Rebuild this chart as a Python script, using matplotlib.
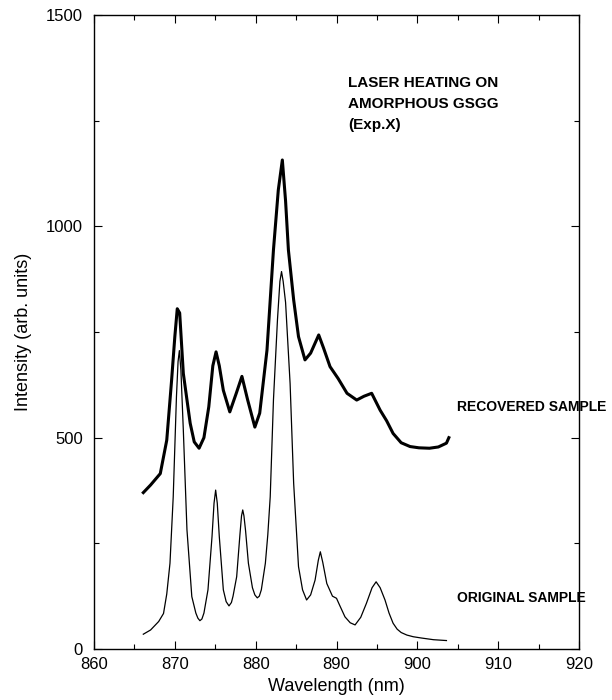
import numpy as np
import matplotlib
matplotlib.use('Agg')
import matplotlib.pyplot as plt
from matplotlib.ticker import MultipleLocator

# wavelengths (nm) and intensities
wl_orig = [866.1, 867, 868, 868.6, 869.0, 869.4, 869.8, 870.2, 870.4, 870.56, 870.75,
           871.05, 871.5, 872.1, 872.6, 872.85, 873.1, 873.35, 873.6, 874.1, 874.6,
           874.85, 875.05, 875.25, 875.5, 876.0, 876.35, 876.7, 877.0, 877.2, 877.65,
           878.05, 878.25, 878.4, 878.55, 878.75, 879.1, 879.6, 879.9, 880.2, 880.45,
           880.7, 881.2, 881.5, 881.8, 882.2, 882.7, 883.0, 883.2, 883.4, 883.7,
           884.26, 884.7, 885.3, 885.8, 886.3, 886.8, 887.35, 887.75, 888.0, 888.3,
           888.8, 889.5, 890.0, 890.4, 891.05, 891.7, 892.3, 893.0, 893.7, 894.4,
           894.9, 895.4, 896.0, 896.5, 897.0, 897.5, 898.0, 898.7, 899.5, 900.5,
           902, 903.6]
int_orig = [35, 45, 65, 84, 130, 203, 360, 597, 680, 706, 660,
            518, 282, 124, 85, 73, 67, 71, 85, 140, 266,
            345, 376, 345, 266, 140, 112, 102, 110, 125, 171,
            270, 315, 329, 315, 280, 203, 145, 128, 121, 125,
            140, 203, 270, 360, 589, 780, 870, 893, 870, 820,
            628, 392, 195, 140, 116, 128, 163, 210, 230, 205,
            155, 125, 120, 103, 76, 62, 57, 75, 108, 145,
            159, 145, 116, 85, 61, 47, 39, 33, 29, 26,
            22, 20]

wl_rec = [866.1, 867, 868.2, 869.0, 869.6, 870.0, 870.3, 870.6, 871.05, 871.9, 872.4,
          873.0, 873.6, 874.2, 874.7, 875.1, 875.5, 876.0, 876.8, 877.6, 878.3,
          879.0, 879.9, 880.5, 881.4, 882.2, 882.8, 883.3, 883.7, 884.05, 884.7,
          885.3, 886.1, 886.8, 887.8, 888.4, 889.2, 890.2, 891.3, 892.5, 893.4,
          894.35, 895.4, 896.2, 897.0, 898.0, 899.1, 900.2, 901.5, 902.6, 903.6, 903.9]
int_rec = [370, 388, 415, 494, 636, 739, 805, 795, 652, 534, 490,
           475, 500, 573, 670, 703, 670, 612, 561, 605, 645,
           590, 525, 558, 707, 944, 1086, 1157, 1060, 944, 826,
           739, 684, 700, 743, 712, 668, 640, 605, 589, 598,
           605, 565, 540, 510, 488, 479, 476, 475, 478, 487, 500]

title_lines = ['LASER HEATING ON', 'AMORPHOUS GSGG', '(Exp.X)']

plt.rcParams['font.family'] = ['Liberation Sans', 'DejaVu Sans']

fig, ax = plt.subplots(figsize=(6.12, 7.0), dpi=100)
fig.subplots_adjust(left=94/612, right=579/612, top=1-15/700, bottom=1-649/700)

ax.plot(wl_rec, int_rec, color='black', lw=2.2, solid_joinstyle='round')
ax.plot(wl_orig, int_orig, color='black', lw=0.9, solid_joinstyle='round')

ax.set_xlim(860, 920)
ax.set_ylim(0, 1500)
ax.xaxis.set_major_locator(MultipleLocator(10))
ax.xaxis.set_minor_locator(MultipleLocator(5))
ax.yaxis.set_major_locator(MultipleLocator(500))
ax.yaxis.set_minor_locator(MultipleLocator(250))
ax.tick_params(which='both', direction='in', top=True, right=True, width=0.8)
ax.tick_params(which='major', length=6, labelsize=12)
ax.tick_params(which='minor', length=3.5)
ax.tick_params(axis='x', pad=6)
ax.tick_params(axis='y', pad=8)
for s in ax.spines.values():
    s.set_linewidth(1.0)

ax.set_xlabel('Wavelength (nm)', fontsize=13, labelpad=4)
ax.set_ylabel('Intensity (arb. units)', fontsize=13, labelpad=10)

for i, t in enumerate(title_lines):
    ax.text(891.4, 1339 - i*50, t, fontsize=11, fontweight='bold', va='center')

ax.text(904.9, 572, 'RECOVERED SAMPLE', fontsize=10, fontweight='bold', va='center', clip_on=False)
ax.text(904.9, 121, 'ORIGINAL SAMPLE', fontsize=10, fontweight='bold', va='center', clip_on=False)

fig.savefig('out.png', dpi=100)
